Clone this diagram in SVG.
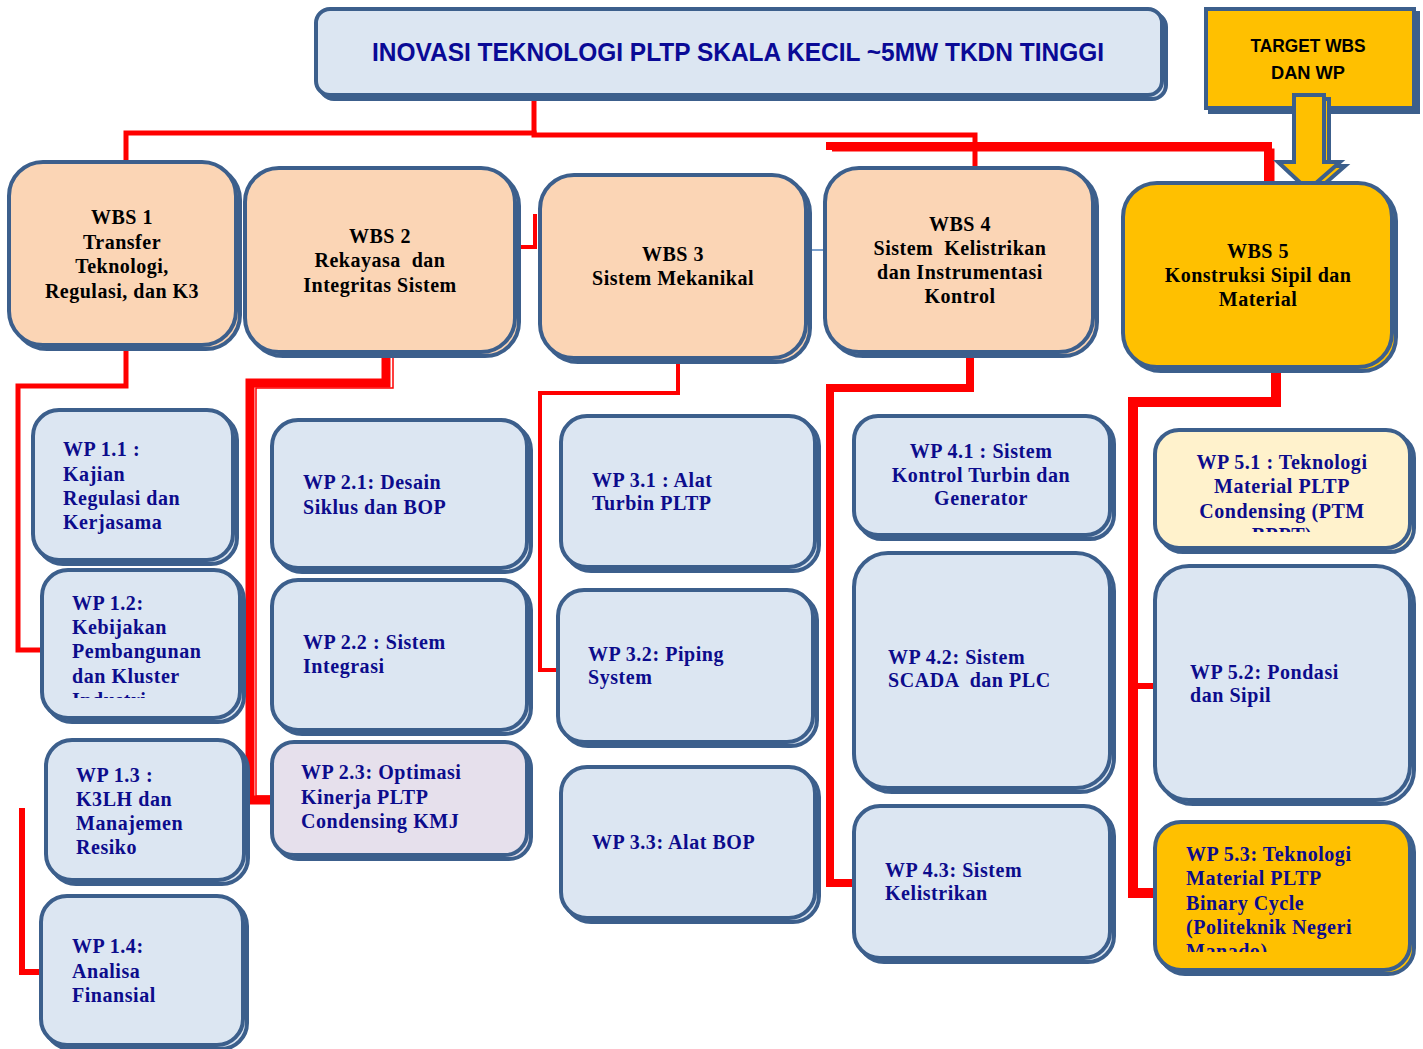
<svg xmlns="http://www.w3.org/2000/svg" width="1423" height="1049" viewBox="0 0 1423 1049">
<style>
.bx{stroke:#3C5F8C;stroke-width:4}
.sh{stroke:#3C5F8C;stroke-width:4}
.blue{fill:#DCE6F2}
.peach{fill:#FBD5B5}
.gold{fill:#FFC000}
.cream{fill:#FFF2CC}
.lav{fill:#E6E0EC}
.wbs{font-family:"Liberation Serif","Times New Roman",serif;font-weight:bold;font-size:20px;letter-spacing:0.5px;fill:#000;text-anchor:middle;white-space:pre}
.wp{font-family:"Liberation Serif","Times New Roman",serif;font-weight:bold;font-size:20px;letter-spacing:0.55px;fill:#0C0C8C;white-space:pre}
.wpc{text-anchor:middle}
.ttl{font-family:"Liberation Sans",Arial,sans-serif;font-weight:bold;fill:#0A0A96}
.tg{font-family:"Liberation Sans",Arial,sans-serif;font-weight:bold;font-size:18px;fill:#000;text-anchor:middle}
.rl{fill:none;stroke:#FF0000;stroke-linejoin:miter}
</style>
<defs>
<clipPath id="c12"><rect x="40" y="570" width="200" height="128"/></clipPath>
<clipPath id="c51"><rect x="1155" y="430" width="255" height="102"/></clipPath>
<clipPath id="c53"><rect x="1155" y="822" width="255" height="130"/></clipPath>
</defs>

<g id="connectors">
<path class="rl" stroke-width="5" d="M534,95 V135"/>
<path class="rl" stroke-width="5" d="M126,162 V133 H534 V135 H975 V168"/>
<path class="rl" stroke-width="8" d="M826,146 H1268 V183"/>
<path class="rl" stroke-width="3" d="M832,150 H1273 V183"/>
<path class="rl" stroke-width="4" d="M519,247 H535 V214"/>
<path fill="none" stroke="#4F81BD" stroke-width="1.5" d="M806,250 H825"/>
<path class="rl" stroke-width="5" d="M126,345 V386 H18 V650 H42"/>
<path class="rl" stroke-width="6" d="M22,808 V972 H41"/>
<path class="rl" stroke-width="9" d="M386,352 V383 H250 V800 H272"/>
<path class="rl" stroke-width="1.5" d="M393,352 V388 H256 V796 H272"/>
<path class="rl" stroke-width="4" d="M678,358 V393 H540 V670 H560"/>
<path class="rl" stroke-width="8" d="M970,352 V388 H830 V883 H853"/>
<path class="rl" stroke-width="10" d="M1276,367 V402 H1133 V893 H1155"/>
<path class="rl" stroke-width="6" d="M1133,686 H1155"/>
</g>

<g id="title">
<rect class="sh blue" x="320" y="13" width="846" height="86" rx="14"/>
<rect class="bx blue" x="316" y="9" width="846" height="86" rx="14"/>
<text class="ttl" x="372" y="61" font-size="26" textLength="732" lengthAdjust="spacingAndGlyphs">INOVASI TEKNOLOGI PLTP SKALA KECIL ~5MW TKDN TINGGI</text>
</g>

<g id="target">
<rect class="sh gold" x="1210" y="13" width="208" height="99"/>
<rect class="bx gold" x="1206" y="9" width="208" height="99"/>
<text class="tg" x="1308" y="52" textLength="115" lengthAdjust="spacingAndGlyphs">TARGET WBS</text>
<text class="tg" x="1308" y="79" textLength="74" lengthAdjust="spacingAndGlyphs">DAN WP</text>
<polygon class="sh gold" points="1299,99 1329,99 1329,166 1345,166 1313,194 1284,166 1299,166"/>
<polygon class="bx gold" points="1294,95 1324,95 1324,162 1340,162 1308,190 1278,162 1294,162"/>
</g>

<g id="wbs1">
<rect class="sh peach" x="13" y="166" width="227" height="183" rx="34"/>
<rect class="bx peach" x="9" y="162" width="227" height="183" rx="34"/>
<text class="wbs" x="122"><tspan x="122" y="224">WBS 1</tspan><tspan x="122" y="249">Transfer</tspan><tspan x="122" y="273">Teknologi,</tspan><tspan x="122" y="298">Regulasi, dan K3</tspan></text>
</g>
<g id="wbs2">
<rect class="sh peach" x="249" y="172" width="270" height="184" rx="34"/>
<rect class="bx peach" x="245" y="168" width="270" height="184" rx="34"/>
<text class="wbs"><tspan x="380" y="243">WBS 2</tspan><tspan x="380" y="267">Rekayasa  dan</tspan><tspan x="380" y="292">Integritas Sistem</tspan></text>
</g>
<g id="wbs3">
<rect class="sh peach" x="544" y="179" width="266" height="183" rx="34"/>
<rect class="bx peach" x="540" y="175" width="266" height="183" rx="34"/>
<text class="wbs"><tspan x="673" y="261">WBS 3</tspan><tspan x="673" y="285">Sistem Mekanikal</tspan></text>
</g>
<g id="wbs4">
<rect class="sh peach" x="829" y="172" width="268" height="184" rx="34"/>
<rect class="bx peach" x="825" y="168" width="268" height="184" rx="34"/>
<text class="wbs"><tspan x="960" y="231">WBS 4</tspan><tspan x="960" y="255">Sistem  Kelistrikan</tspan><tspan x="960" y="279">dan Instrumentasi</tspan><tspan x="960" y="303">Kontrol</tspan></text>
</g>
<g id="wbs5">
<rect class="sh gold" x="1127" y="187" width="269" height="184" rx="34"/>
<rect class="bx gold" x="1123" y="183" width="269" height="184" rx="34"/>
<text class="wbs"><tspan x="1258" y="258">WBS 5</tspan><tspan x="1258" y="282">Konstruksi Sipil dan</tspan><tspan x="1258" y="306">Material</tspan></text>
</g>

<g id="wp11">
<rect class="sh blue" x="37" y="414" width="200" height="150" rx="26"/>
<rect class="bx blue" x="33" y="410" width="200" height="150" rx="26"/>
<text class="wp"><tspan x="63" y="456">WP 1.1 :</tspan><tspan x="63" y="481">Kajian</tspan><tspan x="63" y="505">Regulasi dan</tspan><tspan x="63" y="529">Kerjasama</tspan></text>
</g>
<g id="wp12">
<rect class="sh blue" x="46" y="574" width="198" height="148" rx="26"/>
<rect class="bx blue" x="42" y="570" width="198" height="148" rx="26"/>
<text class="wp" clip-path="url(#c12)"><tspan x="72" y="610">WP 1.2:</tspan><tspan x="72" y="634">Kebijakan</tspan><tspan x="72" y="658">Pembangunan</tspan><tspan x="72" y="683">dan Kluster</tspan><tspan x="72" y="707">Industri</tspan></text>
</g>
<g id="wp13">
<rect class="sh blue" x="50" y="744" width="198" height="140" rx="26"/>
<rect class="bx blue" x="46" y="740" width="198" height="140" rx="26"/>
<text class="wp"><tspan x="76" y="782">WP 1.3 :</tspan><tspan x="76" y="806">K3LH dan</tspan><tspan x="76" y="830">Manajemen</tspan><tspan x="76" y="854">Resiko</tspan></text>
</g>
<g id="wp14">
<rect class="sh blue" x="45" y="900" width="202" height="149" rx="26"/>
<rect class="bx blue" x="41" y="896" width="202" height="149" rx="26"/>
<text class="wp"><tspan x="72" y="953">WP 1.4:</tspan><tspan x="72" y="978">Analisa</tspan><tspan x="72" y="1002">Finansial</tspan></text>
</g>

<g id="wp21">
<rect class="sh blue" x="276" y="424" width="255" height="148" rx="26"/>
<rect class="bx blue" x="272" y="420" width="255" height="148" rx="26"/>
<text class="wp"><tspan x="303" y="489">WP 2.1: Desain</tspan><tspan x="303" y="514">Siklus dan BOP</tspan></text>
</g>
<g id="wp22">
<rect class="sh blue" x="276" y="584" width="255" height="150" rx="26"/>
<rect class="bx blue" x="272" y="580" width="255" height="150" rx="26"/>
<text class="wp"><tspan x="303" y="649">WP 2.2 : Sistem</tspan><tspan x="303" y="673">Integrasi</tspan></text>
</g>
<g id="wp23">
<rect class="sh lav" x="276" y="746" width="255" height="113" rx="22"/>
<rect class="bx lav" x="272" y="742" width="255" height="113" rx="22"/>
<text class="wp"><tspan x="301" y="779">WP 2.3: Optimasi</tspan><tspan x="301" y="804">Kinerja PLTP</tspan><tspan x="301" y="828">Condensing KMJ</tspan></text>
</g>

<g id="wp31">
<rect class="sh blue" x="565" y="420" width="254" height="151" rx="26"/>
<rect class="bx blue" x="561" y="416" width="254" height="151" rx="26"/>
<text class="wp"><tspan x="592" y="487">WP 3.1 : Alat</tspan><tspan x="592" y="510">Turbin PLTP</tspan></text>
</g>
<g id="wp32">
<rect class="sh blue" x="562" y="594" width="255" height="152" rx="26"/>
<rect class="bx blue" x="558" y="590" width="255" height="152" rx="26"/>
<text class="wp"><tspan x="588" y="661">WP 3.2: Piping</tspan><tspan x="588" y="684">System</tspan></text>
</g>
<g id="wp33">
<rect class="sh blue" x="565" y="771" width="254" height="151" rx="26"/>
<rect class="bx blue" x="561" y="767" width="254" height="151" rx="26"/>
<text class="wp"><tspan x="592" y="849">WP 3.3: Alat BOP</tspan></text>
</g>

<g id="wp41">
<rect class="sh blue" x="858" y="420" width="256" height="119" rx="24"/>
<rect class="bx blue" x="854" y="416" width="256" height="119" rx="24"/>
<text class="wp wpc"><tspan x="981" y="458">WP 4.1 : Sistem</tspan><tspan x="981" y="482">Kontrol Turbin dan</tspan><tspan x="981" y="505">Generator</tspan></text>
</g>
<g id="wp42">
<rect class="sh blue" x="858" y="557" width="256" height="235" rx="34"/>
<rect class="bx blue" x="854" y="553" width="256" height="235" rx="34"/>
<text class="wp"><tspan x="888" y="664">WP 4.2: Sistem</tspan><tspan x="888" y="687">SCADA  dan PLC</tspan></text>
</g>
<g id="wp43">
<rect class="sh blue" x="858" y="810" width="256" height="152" rx="26"/>
<rect class="bx blue" x="854" y="806" width="256" height="152" rx="26"/>
<text class="wp"><tspan x="885" y="877">WP 4.3: Sistem</tspan><tspan x="885" y="900">Kelistrikan</tspan></text>
</g>

<g id="wp51">
<rect class="sh cream" x="1159" y="434" width="255" height="118" rx="24"/>
<rect class="bx cream" x="1155" y="430" width="255" height="118" rx="24"/>
<text class="wp wpc" clip-path="url(#c51)"><tspan x="1282" y="469">WP 5.1 : Teknologi</tspan><tspan x="1282" y="493">Material PLTP</tspan><tspan x="1282" y="518">Condensing (PTM</tspan><tspan x="1282" y="542">BPPT)</tspan></text>
</g>
<g id="wp52">
<rect class="sh blue" x="1159" y="570" width="255" height="234" rx="34"/>
<rect class="bx blue" x="1155" y="566" width="255" height="234" rx="34"/>
<text class="wp"><tspan x="1190" y="679">WP 5.2: Pondasi</tspan><tspan x="1190" y="702">dan Sipil</tspan></text>
</g>
<g id="wp53">
<rect class="sh gold" x="1159" y="826" width="255" height="148" rx="26"/>
<rect class="bx gold" x="1155" y="822" width="255" height="148" rx="26"/>
<text class="wp" clip-path="url(#c53)"><tspan x="1186" y="861">WP 5.3: Teknologi</tspan><tspan x="1186" y="885">Material PLTP</tspan><tspan x="1186" y="910">Binary Cycle</tspan><tspan x="1186" y="934">(Politeknik Negeri</tspan><tspan x="1186" y="958">Manado)</tspan></text>
</g>
</svg>
